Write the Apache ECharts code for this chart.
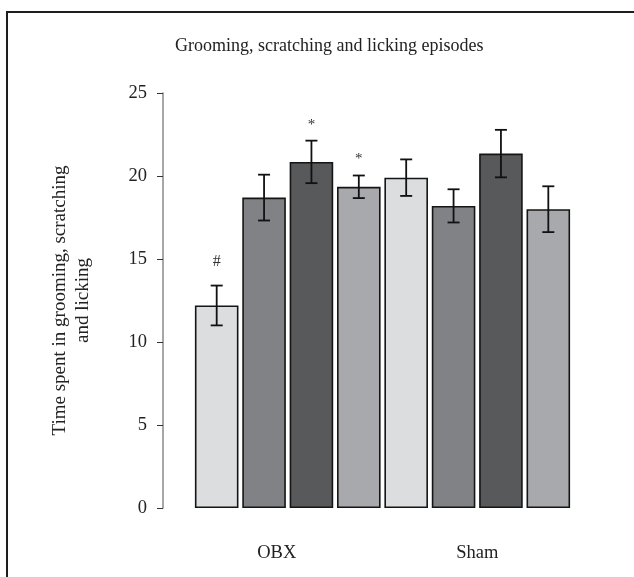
<!DOCTYPE html>
<html>
<head>
<meta charset="utf-8">
<script src="https://cdn.jsdelivr.net/npm/echarts@6/dist/echarts.min.js"></script>
<style>
  html, body { margin: 0; padding: 0; background: #fff; }
  #chart { width: 634px; height: 577px; }
</style>
</head>
<body>
<div id="chart"></div>
<script>
// Eight bars: four treatment groups for OBX, then the same four for Sham
var categories = ['OBX-1', 'OBX-2', 'OBX-3', 'OBX-4', 'Sham-1', 'Sham-2', 'Sham-3', 'Sham-4'];
var means = [12.2, 18.7, 20.85, 19.35, 19.9, 18.2, 21.35, 18.0];
var sem = [1.2, 1.38, 1.28, 0.68, 1.1, 1.0, 1.43, 1.38];
var marks = ['#', '', '*', '*', '', '', '', ''];
var groupLabels = ['OBX', 'Sham'];
var yTicks = [0, 5, 10, 15, 20, 25];

var barColors = ['#dcdddf', '#808285', '#58595b', '#a8a9ac', '#dcdddf', '#808285', '#58595b', '#a8a9ac'];
var serif = '"Liberation Serif", "DejaVu Serif", serif';
var fs = 18.5;

var chart = echarts.init(document.getElementById('chart'));

var errData = means.map(function (m, i) { return [i, m - sem[i], m + sem[i], marks[i]]; });

chart.setOption({
  animation: false,
  title: {
    text: 'Grooming, scratching and licking episodes',
    left: 170,
    top: 32,
    textStyle: { fontFamily: serif, fontSize: 18, fontWeight: 'normal', color: '#222' }
  },
  graphic: [{
    type: 'rect',
    shape: { x: 7, y: 12, width: 660, height: 620 },
    style: { fill: 'none', stroke: '#1e1e1e', lineWidth: 2 },
    silent: true,
    z: 100
  }],
  grid: { left: 193, right: 62, top: 93, bottom: 69 },
  xAxis: [{
    type: 'category',
    data: categories,
    axisLine: { show: false },
    axisTick: { show: false },
    axisLabel: { show: false }
  }, {
    type: 'category',
    data: groupLabels,
    position: 'bottom',
    axisLine: { show: false },
    axisTick: { show: false },
    axisLabel: {
      margin: 36,
      fontFamily: serif,
      fontSize: fs,
      color: '#222',
      formatter: function (v, i) { return i === 0 ? '{a|' + v + '}' : '{b|' + v + '}'; },
      rich: {
        a: { fontFamily: serif, fontSize: fs, color: '#222', padding: [0, 22, 0, 0] },
        b: { fontFamily: serif, fontSize: fs, color: '#222' }
      }
    }
  }],
  yAxis: {
    type: 'value',
    min: yTicks[0],
    max: yTicks[yTicks.length - 1],
    interval: 5,
    offset: 30,
    name: 'Time spent in grooming, scratching\nand licking',
    nameLocation: 'middle',
    nameGap: 68,
    nameTextStyle: { fontFamily: serif, fontSize: 19, color: '#222', lineHeight: 23 },
    splitLine: { show: false },
    axisLine: { show: true, lineStyle: { color: '#8a8a8a', width: 1.5 } },
    axisTick: { show: true, length: 6, lineStyle: { color: '#333', width: 1 } },
    axisLabel: { margin: 16, fontFamily: serif, fontSize: fs, color: '#222' }
  },
  series: [{
    type: 'bar',
    xAxisIndex: 0,
    data: means.map(function (v, i) {
      return { value: v, itemStyle: { color: barColors[i] } };
    }),
    barWidth: '92%',
    itemStyle: { borderColor: '#151515', borderWidth: 1.6 }
  }, {
    type: 'custom',
    xAxisIndex: 0,
    data: errData,
    z: 10,
    renderItem: function (params, api) {
      var x = api.coord([api.value(0), 0])[0];
      var lo = api.coord([api.value(0), api.value(1)])[1];
      var hi = api.coord([api.value(0), api.value(2)])[1];
      var mark = errData[params.dataIndex][3];
      var cap = 6;
      var st = { stroke: '#111', lineWidth: 1.8 };
      var children = [
        { type: 'line', shape: { x1: x, y1: lo, x2: x, y2: hi }, style: st },
        { type: 'line', shape: { x1: x - cap, y1: lo, x2: x + cap, y2: lo }, style: st },
        { type: 'line', shape: { x1: x - cap, y1: hi, x2: x + cap, y2: hi }, style: st }
      ];
      if (mark) {
        children.push({
          type: 'text',
          style: {
            text: mark,
            x: x,
            y: hi - (mark === '#' ? 24 : 16),
            textAlign: 'center',
            textVerticalAlign: 'middle',
            fontFamily: serif,
            fontSize: mark === '#' ? 16 : 15,
            fill: '#333'
          }
        });
      }
      return { type: 'group', children: children };
    }
  }]
});
</script>
</body>
</html>
